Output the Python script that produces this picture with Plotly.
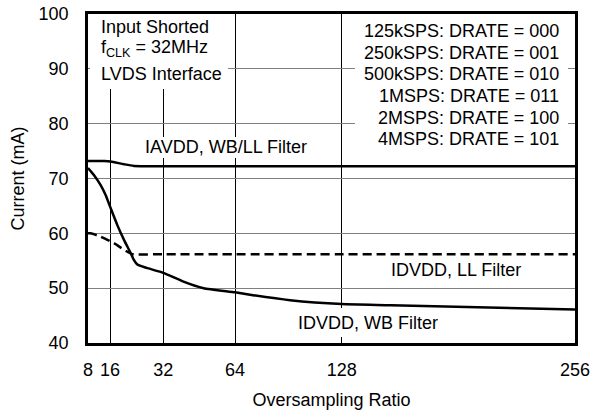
import numpy as np
import plotly.graph_objects as go

# ---- data ----
osr_ticks = [8, 16, 32, 64, 128, 256]
tick_labels = ["8", "16", "32", "64", "128", "256"]
y_ticks = [40, 50, 60, 70, 80, 90, 100]

iavdd_osr = [8, 14, 16.2, 20.2, 23.2, 32, 256]
iavdd_ma = [73.2, 73.2, 73.1, 72.6, 72.3, 72.25, 72.25]

wb_osr = [8, 10.2, 12.6, 14.4, 16.2, 18.2, 20.2, 22.2, 23.2, 24.2, 27, 32, 41, 50, 64, 73, 97, 128, 155, 256]
wb_ma = [71.9, 70.6, 68.8, 67.0, 64.6, 61.5, 58.8, 56.4, 55.1, 54.3, 53.7, 52.8, 51.2, 50.0, 49.25, 48.8, 47.8, 47.1, 46.9, 46.1]

ll_osr = [8, 9, 12.6, 17.2, 20.2, 22.7, 32, 256]
ll_ma = [60.0, 60.0, 59.4, 58.2, 57.0, 56.2, 56.2, 56.2]

# ---- non-uniform x scale as drawn on the original chart ----
tick_pos = [0, 22, 75.3, 147, 253.7, 487]


def xs(osr):
    return np.interp(osr, osr_ticks, tick_pos)


W, H = 595, 412
L, R, T, B = 88, 20, 14, 69
PW, PH = W - L - R, H - T - B


def px2x(px):  # picture pixel -> x axis units
    return (px - L) * 487 / PW


def py2y(py):  # picture pixel -> y axis units
    return 100 - (py - T) * 60 / PH


FONT = "Liberation Sans, Arial, Helvetica, sans-serif"
FS = 18

fig = go.Figure()
fig.add_trace(go.Scatter(x=xs(iavdd_osr), y=iavdd_ma, mode="lines",
                         line=dict(color="black", width=2.5, shape="spline", smoothing=0.6),
                         name="IAVDD, WB/LL Filter", showlegend=False))
fig.add_trace(go.Scatter(x=xs(ll_osr), y=ll_ma, mode="lines",
                         line=dict(color="black", width=2.5, dash="9px,5px", shape="spline", smoothing=0.4),
                         name="IDVDD, LL Filter", showlegend=False))
fig.add_trace(go.Scatter(x=xs(wb_osr), y=wb_ma, mode="lines",
                         line=dict(color="black", width=2.5, shape="spline", smoothing=0.5),
                         name="IDVDD, WB Filter", showlegend=False))

# white boxes behind the text (hide gridlines, stay under curves and frame)
boxes = [
    (90, 14, 228, 89),
    (355, 14, 568, 152),
    (145, 137, 307, 158),
    (296, 308, 440, 337),
]
for x0, y0, x1, y1 in boxes:
    fig.add_shape(type="rect", xref="x", yref="y", layer="between",
                  x0=px2x(x0), x1=px2x(x1), y0=py2y(y0), y1=py2y(y1),
                  fillcolor="white", line=dict(width=0))

ann_font = dict(family=FONT, size=FS, color="black")
left_lines = [("Input Shorted", 26.5), ("f<sub>CLK</sub> = 32MHz", 48), ("LVDS Interface", 74)]
for txt, py in left_lines:
    fig.add_annotation(x=px2x(99), y=py2y(py), xref="x", yref="y", text=txt, showarrow=False,
                       xanchor="left", yanchor="middle", font=ann_font)

right_lines = [("125kSPS: DRATE = 000", 30.8), ("250kSPS: DRATE = 001", 52.5),
               ("500kSPS: DRATE = 010", 74), ("1MSPS: DRATE = 011", 95.8),
               ("2MSPS: DRATE = 100", 117.5), ("4MSPS: DRATE = 101", 139.2)]
for txt, py in right_lines:
    fig.add_annotation(x=px2x(561), y=py2y(py), xref="x", yref="y", text=txt, showarrow=False,
                       xanchor="right", yanchor="middle", font=ann_font)

curve_labels = [("IAVDD, WB/LL Filter", 226, 147), ("IDVDD, LL Filter", 456, 270),
                ("IDVDD, WB Filter", 368, 323)]
for txt, px, py in curve_labels:
    fig.add_annotation(x=px2x(px), y=py2y(py), xref="x", yref="y", text=txt, showarrow=False,
                       xanchor="center", yanchor="middle", font=ann_font)

fig.update_xaxes(range=[0, 487], tickmode="array", tickvals=xs(osr_ticks), ticktext=tick_labels,
                 showgrid=True, gridcolor="black", gridwidth=1, zeroline=False,
                 showline=True, linecolor="black", linewidth=2.5, mirror=True,
                 ticks="", ticklabelstandoff=9, tickfont=dict(family=FONT, size=FS, color="black"),
                 title=dict(text="Oversampling Ratio", font=dict(family=FONT, size=FS, color="black"), standoff=15),
                 automargin=False)
fig.update_yaxes(range=[40, 100], tickmode="array", tickvals=y_ticks,
                 showgrid=True, gridcolor="#808080", gridwidth=1, zeroline=False,
                 showline=True, linecolor="black", linewidth=2.5, mirror=True,
                 ticks="", ticklabelstandoff=13, tickfont=dict(family=FONT, size=FS, color="black"),
                 title=dict(text="Current (mA)", font=dict(family=FONT, size=FS, color="black"), standoff=10),
                 automargin=False)

fig.update_layout(width=W, height=H, margin=dict(l=L, r=R, t=T, b=B, autoexpand=False),
                  paper_bgcolor="white", plot_bgcolor="white", showlegend=False, hovermode=False)

# remove the default 8px page margin so the figure fills the window exactly
fig.write_html("out.html", config={"displayModeBar": False},
               post_script="document.body.style.margin='0px';document.body.style.overflow='hidden';")
